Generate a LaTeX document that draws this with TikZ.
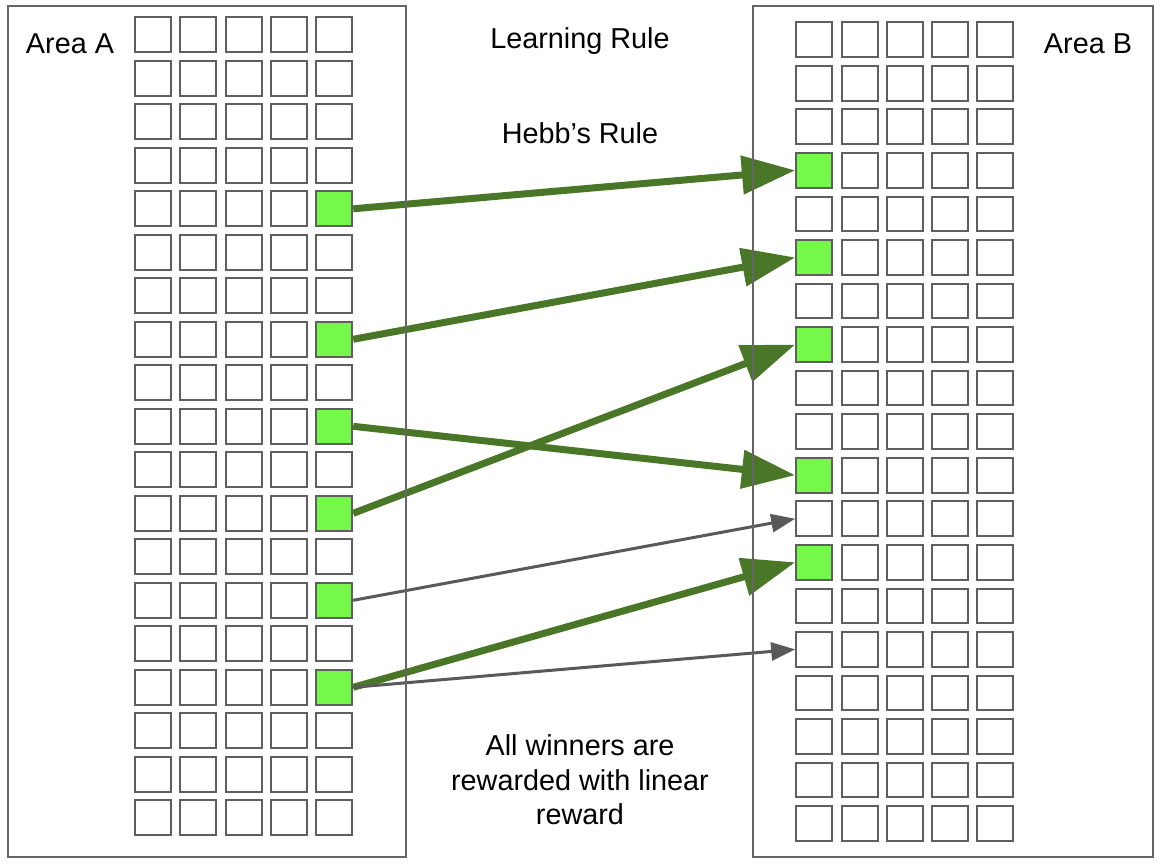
\documentclass[tikz,border=0pt]{standalone}
\usepackage{fontspec}
\setmainfont{Liberation Sans}
\usetikzlibrary{arrows.meta}

\definecolor{cellgray}{RGB}{95,95,95}
\definecolor{boxgray}{RGB}{102,102,102}
\definecolor{winner}{RGB}{118,248,74}
\definecolor{hebbgreen}{RGB}{74,118,40}
\definecolor{weakgray}{RGB}{89,89,89}

\begin{document}
\begin{tikzpicture}[x=0.75pt, y=-0.75pt,
        cell/.style={draw=cellgray, line width=1.5pt, minimum width=27pt, minimum height=26pt, inner sep=0pt},
        fired/.style={cell, fill=winner},
        caption/.style={font=\fontsize{21.6}{26}\selectfont, align=center},
        strong/.style={hebbgreen, line width=5.25pt, -{Triangle[length=40pt, width=28pt]}},
        weak/.style={weakgray, line width=2.25pt, -{Triangle[length=18pt, width=13.5pt]}}]

        \useasboundingbox (0,0) rectangle (1162,866);

        % Area A cells
        \foreach \r in {1,...,19}
            \foreach \c in {1,...,5}
                \node[cell] (a-\r-\c) at ({153+(\c-1)*45.3}, {34.8+(\r-1)*43.5}) {};
        \foreach \r in {5,8,10,12,14,16}
            \node[fired] (a-\r-5) at (a-\r-5) {};

        % Area B cells
        \foreach \r in {1,...,19}
            \foreach \c in {1,...,5}
                \node[cell] (b-\r-\c) at ({814.2+(\c-1)*45.3}, {39.7+(\r-1)*43.55}) {};
        \foreach \r in {4,6,8,11,13}
            \node[fired] (b-\r-1) at (b-\r-1) {};

        % Hebbian connections
        \draw[strong] (a-5-5.east) -- (b-4-1.west);
        \draw[strong] (a-8-5.east) -- (b-6-1.west);
        \draw[strong] (a-10-5.east) -- (b-11-1.west);
        \draw[strong] (a-12-5.east) -- (b-8-1.west);
        \draw[strong] (a-16-5.east) -- (b-13-1.west);

        % Other connections
        \draw[weak] (a-14-5.east) -- (b-12-1.west);
        \draw[weak] (a-16-5.east) -- (b-15-1.west);

        % Area frames
        \draw[boxgray, line width=1.1pt] (8,6) rectangle (406,857);
        \draw[boxgray, line width=1.1pt] (753,6) rectangle (1153,857);

        % Texts
        \node[caption] (areaA) at (70,44) {Area A};
        \node[caption] (areaB) at (1088,44) {Area B};
        \node[caption] (rule) at (580,41) {Learning Rule};
        \node[caption] (hebb) at (580,133) {Hebb’s Rule};
        \node[caption] (reward) at (580,780) {All winners are\\rewarded with linear\\reward};

\end{tikzpicture}
\end{document}
